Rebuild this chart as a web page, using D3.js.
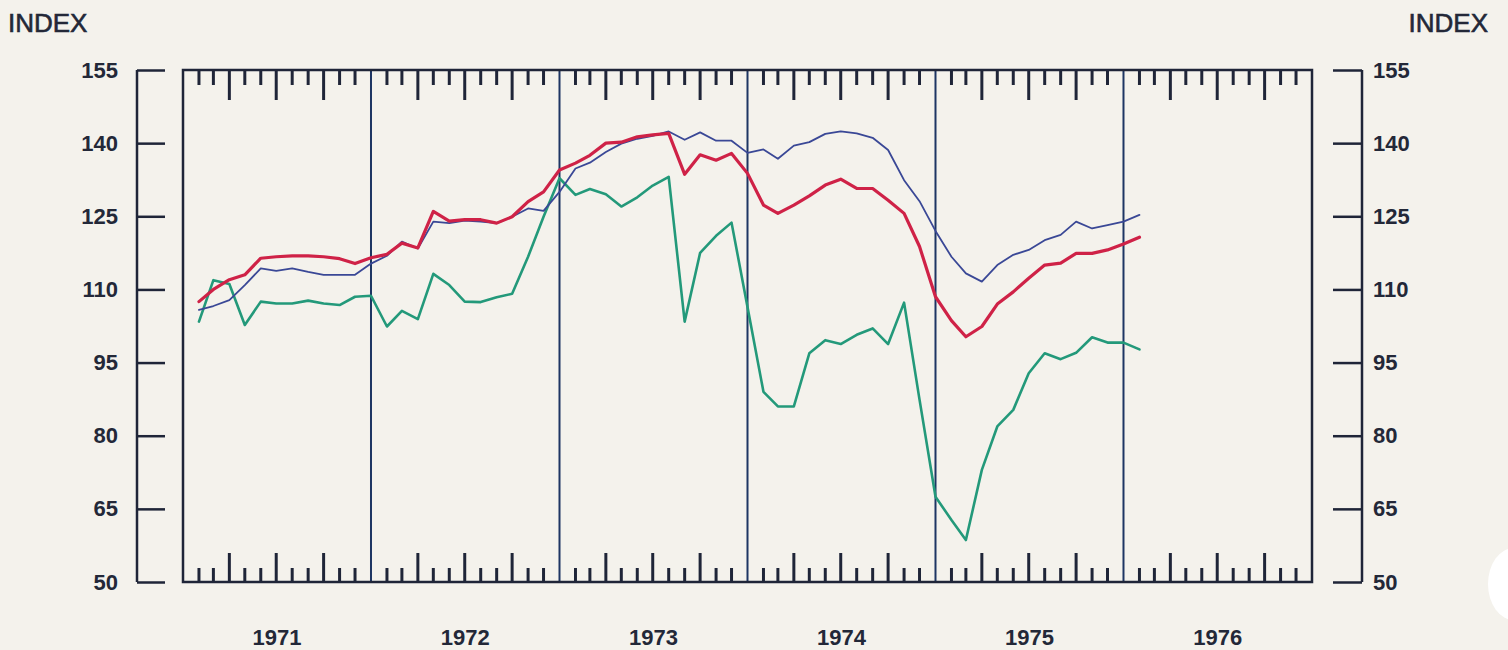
<!DOCTYPE html>
<html>
<head>
<meta charset="utf-8">
<script src="https://cdn.jsdelivr.net/npm/d3@7"></script>
<style>
  html, body { margin: 0; padding: 0; background: #f4f2ec; }
  svg { display: block; }
</style>
</head>
<body>
<svg id="chart" width="1508" height="650"></svg>
<script>
// ---- data (monthly, Jan 1971 .. Jan 1976, plotted at month end) ----
const years = [1971, 1972, 1973, 1974, 1975, 1976];
const yTicks = [50, 65, 80, 95, 110, 125, 140, 155];

const redSeries = [
  107.5, 110.0, 112.0, 113.0, 116.4, 116.7, 116.9, 116.9, 116.7, 116.3, 115.3, 116.5,
  117.2, 119.5, 118.5, 126.0, 124.0, 124.3, 124.3, 123.6, 124.9, 128.0, 130.0, 134.5,
  135.9, 137.5, 140.0, 140.2, 141.3, 141.7, 142.0, 133.6, 137.6, 136.5, 137.9, 133.8,
  127.3, 125.6, 127.3, 129.2, 131.4, 132.6, 130.7, 130.7, 128.3, 125.6, 118.8, 108.5,
  103.6, 100.3, 102.4, 107.0, 109.5, 112.3, 115.0, 115.4, 117.4, 117.4, 118.1, 119.3,
  120.7
];
const blueSeries = [
  105.8, 106.6, 107.8, 110.9, 114.3, 113.8, 114.3, 113.6, 113.0, 113.0, 113.0, 115.3,
  116.9, 119.8, 118.4, 123.9, 123.6, 124.1, 123.9, 123.6, 124.9, 126.6, 126.1, 130.0,
  134.8, 136.0, 138.2, 139.9, 140.9, 141.5, 142.4, 140.7, 142.2, 140.5, 140.5, 138.0,
  138.7, 136.8, 139.5, 140.2, 141.9, 142.4, 142.0, 141.1, 138.6, 132.4, 128.1, 122.0,
  116.7, 113.3, 111.6, 115.0, 117.1, 118.1, 120.1, 121.2, 123.9, 122.5, 123.2, 123.9,
  125.3
];
const greenSeries = [
  103.4, 111.9, 111.1, 102.7, 107.5, 107.1, 107.1, 107.7, 107.1, 106.8, 108.5, 108.7,
  102.4, 105.6, 103.9, 113.2, 110.9, 107.5, 107.4, 108.4, 109.1, 116.7, 124.9, 132.8,
  129.4, 130.6, 129.5, 127.0, 128.9, 131.3, 133.1, 103.4, 117.5, 121.0, 123.7, 106.4,
  89.0, 86.0, 86.0, 96.9, 99.6, 98.8, 100.7, 102.0, 98.8, 107.3, 87.4, 67.5,
  62.7, 58.6, 73.0, 81.9, 85.3, 92.8, 96.9, 95.7, 97.0, 100.2, 99.1, 99.1,
  97.7
];
// month-end dates for each observation (Jan 1971 .. Jan 1976)
const monthEnds = d3.timeMonth.range(new Date(1971, 1, 1), new Date(1976, 2, 1));

// ---- layout ----
const svg = d3.select("#chart");
const L = 183, R = 1312, T = 70, B = 582;
const x = d3.scaleTime().domain([new Date(1971, 0, 1), new Date(1977, 0, 1)]).range([L, R]);
const y = d3.scaleLinear().domain([50, 155]).range([B, T]);

const ink = "#1f2538";
const navy = "#1d3563";
const textInk = "#232838";

// paper blemish at right edge (scan artifact)
svg.append("ellipse").attr("cx", 1514).attr("cy", 584).attr("rx", 26).attr("ry", 36)
  .attr("fill", "#ffffff");

// ---- year divider lines ----
const yearStarts = years.slice(1).map(yr => new Date(yr, 0, 1));
svg.append("g").selectAll("line").data(yearStarts).join("line")
  .attr("x1", d => x(d)).attr("x2", d => x(d))
  .attr("y1", T).attr("y2", B)
  .attr("stroke", navy).attr("stroke-width", 2);

// ---- month ticks top & bottom ----
const monthTicks = d3.timeMonth.range(new Date(1971, 0, 1), new Date(1977, 0, 1))
  .filter(d => d.getMonth() !== 0);
const isQuarter = d => d.getMonth() % 3 === 0;
const tg = svg.append("g").attr("stroke", ink).attr("stroke-width", 3);
tg.selectAll("line.top").data(monthTicks).join("line").attr("class", "top")
  .attr("x1", d => x(d)).attr("x2", d => x(d))
  .attr("y1", T).attr("y2", d => T + (isQuarter(d) ? 30 : 15));
tg.selectAll("line.bot").data(monthTicks).join("line").attr("class", "bot")
  .attr("x1", d => x(d)).attr("x2", d => x(d))
  .attr("y1", B).attr("y2", d => B - (isQuarter(d) ? 29 : 14));

// ---- frame ----
svg.append("rect").attr("x", L).attr("y", T).attr("width", R - L).attr("height", B - T)
  .attr("fill", "none").attr("stroke", ink).attr("stroke-width", 2.5);

// ---- left / right value axes ----
const axisFont = "'Liberation Sans', Arial, sans-serif";
const leftAxis = svg.append("g").attr("transform", `translate(165,0)`)
  .call(d3.axisLeft(y).tickValues(yTicks).tickSize(28).tickSizeOuter(0).tickPadding(19).tickFormat(d3.format("d")));
const rightAxis = svg.append("g").attr("transform", `translate(1333,0)`)
  .call(d3.axisRight(y).tickValues(yTicks).tickSize(29).tickSizeOuter(0).tickPadding(11).tickFormat(d3.format("d")));
[leftAxis, rightAxis].forEach(g => {
  g.select(".domain").remove();
  g.selectAll(".tick line").attr("stroke", ink).attr("stroke-width", 2.5);
  g.selectAll(".tick text").attr("fill", textInk)
    .style("font-family", axisFont).style("font-size", "22px").style("font-weight", "bold");
});
svg.append("line").attr("x1", 137).attr("x2", 137).attr("y1", y(155)).attr("y2", y(50))
  .attr("stroke", ink).attr("stroke-width", 2.5);
svg.append("line").attr("x1", 1362).attr("x2", 1362).attr("y1", y(155)).attr("y2", y(50))
  .attr("stroke", ink).attr("stroke-width", 2.5);

// ---- axis titles ----
svg.append("text").attr("x", 8).attr("y", 32).text("INDEX")
  .attr("fill", textInk).attr("stroke", textInk).attr("stroke-width", 0.6)
  .style("font-family", axisFont).style("font-size", "26px");
svg.append("text").attr("x", 1488).attr("y", 32).attr("text-anchor", "end").text("INDEX")
  .attr("fill", textInk).attr("stroke", textInk).attr("stroke-width", 0.6)
  .style("font-family", axisFont).style("font-size", "26px");

// ---- year labels ----
svg.append("g").selectAll("text").data(years).join("text")
  .attr("x", yr => (x(new Date(yr, 0, 1)) + x(new Date(yr + 1, 0, 1))) / 2)
  .attr("y", 645).attr("text-anchor", "middle").text(yr => yr)
  .attr("fill", textInk).style("font-family", axisFont).style("font-size", "22px").style("font-weight", "bold");

// ---- series lines ----
const line = d3.line().x((d, i) => x(monthEnds[i])).y(d => y(d));
const series = [
  { values: greenSeries, color: "#23997a", width: 2.6 },
  { values: blueSeries, color: "#3a4896", width: 1.8 },
  { values: redSeries, color: "#cf2247", width: 3.2 }
];
svg.append("g").selectAll("path").data(series).join("path")
  .attr("d", s => line(s.values))
  .attr("fill", "none").attr("stroke", s => s.color).attr("stroke-width", s => s.width)
  .attr("stroke-linejoin", "round").attr("stroke-linecap", "round");
</script>
</body>
</html>
